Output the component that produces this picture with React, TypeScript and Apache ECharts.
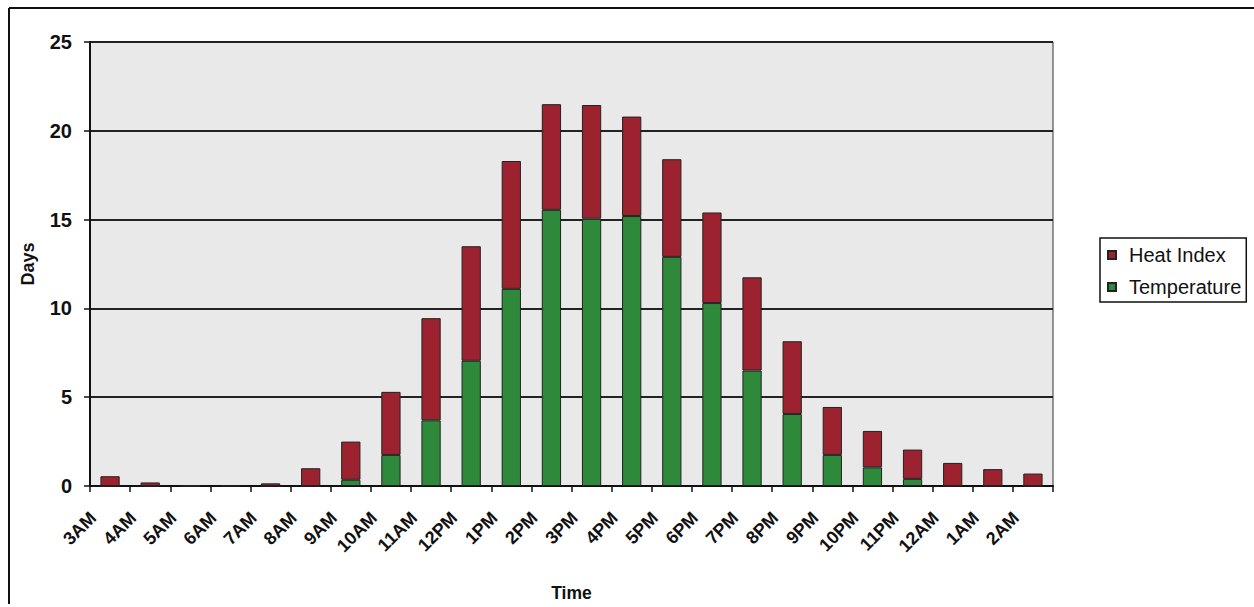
import React, { useEffect, useRef } from "react";
import * as echarts from "echarts";

const categories = [
  "3AM", "4AM", "5AM", "6AM", "7AM", "8AM", "9AM", "10AM", "11AM", "12PM", "1PM", "2PM",
  "3PM", "4PM", "5PM", "6PM", "7PM", "8PM", "9PM", "10PM", "11PM", "12AM", "1AM", "2AM",
];
const temperature = [
  0, 0, 0, 0, 0, 0, 0.35, 1.75, 3.7, 7.05, 11.1, 15.55,
  15.05, 15.2, 12.9, 10.3, 6.5, 4.05, 1.75, 1.05, 0.4, 0, 0, 0,
];
const heatIndex = [
  0.55, 0.2, 0, 0.05, 0.15, 1.0, 2.15, 3.55, 5.75, 6.45, 7.2, 5.95,
  6.4, 5.6, 5.5, 5.1, 5.25, 4.1, 2.7, 2.05, 1.65, 1.3, 0.95, 0.7,
];
const yTicks = { min: 0, max: 25, interval: 5 };

const FONT = "'Liberation Sans', Arial, sans-serif";

export default function App() {
  const ref = useRef<HTMLDivElement>(null);
  useEffect(() => {
    document.body.style.margin = "0";
    const chart = echarts.init(ref.current!, null, { renderer: "svg" });
    chart.setOption({
      animation: false,
      backgroundColor: "#ffffff",
      textStyle: { fontFamily: FONT },
      grid: {
        left: 90,
        right: 201,
        top: 42,
        bottom: 110,
        show: true,
        backgroundColor: "#e9e9ea",
        borderColor: "#333",
        borderWidth: 1,
      },
      legend: {
        orient: "vertical",
        left: 1100,
        top: 238,
        data: ["Heat Index", "Temperature"],
        icon: "rect",
        itemWidth: 8,
        itemHeight: 8,
        itemGap: 10,
        padding: [6, 5, 4, 7],
        borderColor: "#111",
        borderWidth: 1.5,
        backgroundColor: "#fff",
        textStyle: { fontFamily: FONT, fontSize: 20, lineHeight: 22, color: "#111", padding: [0, 0, 0, 8] },
      },
      xAxis: {
        type: "category",
        data: categories,
        name: "Time",
        nameLocation: "middle",
        nameGap: 98,
        nameTextStyle: { fontFamily: FONT, fontSize: 17.5, fontWeight: "bold", color: "#111" },
        axisLine: { show: true, lineStyle: { color: "#111", width: 2 } },
        axisTick: { show: true, alignWithLabel: false, length: 6, lineStyle: { color: "#111", width: 1.5 } },
        axisLabel: {
          rotate: 45,
          interval: 0,
          margin: 12,
          padding: [0, 24, 0, 0],
          fontFamily: FONT,
          fontSize: 18,
          fontWeight: "bold",
          color: "#111",
        },
        splitLine: { show: false },
      },
      yAxis: {
        type: "value",
        min: yTicks.min,
        max: yTicks.max,
        interval: yTicks.interval,
        name: "Days",
        nameLocation: "middle",
        nameRotate: 90,
        nameGap: 53,
        nameTextStyle: { fontFamily: FONT, fontSize: 18, fontWeight: "bold", color: "#111" },
        axisLine: { show: true, lineStyle: { color: "#111", width: 2 } },
        axisTick: { show: true, length: 6, lineStyle: { color: "#111", width: 1.5 } },
        axisLabel: { margin: 18, fontFamily: FONT, fontSize: 20, fontWeight: "bold", color: "#111" },
        splitLine: { show: true, lineStyle: { color: "#222", width: 2 } },
      },
      series: [
        {
          name: "Temperature",
          type: "bar",
          stack: "total",
          data: temperature,
          barWidth: "48%",
          itemStyle: { color: "#2e8a3a", borderColor: "#222", borderWidth: 1 },
        },
        {
          name: "Heat Index",
          type: "bar",
          stack: "total",
          data: heatIndex,
          barWidth: "48%",
          itemStyle: { color: "#9c2230", borderColor: "#222", borderWidth: 1 },
        },
      ],
      graphic: [
        { type: "line", shape: { x1: 9, y1: 8, x2: 1254, y2: 8 }, style: { stroke: "#111", lineWidth: 2 } },
        { type: "line", shape: { x1: 9, y1: 8, x2: 9, y2: 604 }, style: { stroke: "#111", lineWidth: 2 } },
      ],
    });
    return () => chart.dispose();
  }, []);
  return <div ref={ref} style={{ width: 1254, height: 607 }} />;
}
